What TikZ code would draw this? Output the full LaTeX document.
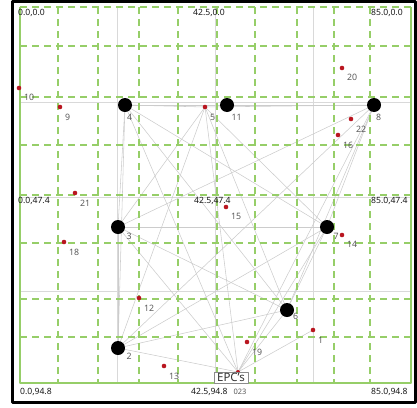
\documentclass[tikz,border=0pt]{standalone}
\usepackage{fontspec}
\setmainfont{Noto Sans}
\usetikzlibrary{calc}
\definecolor{gridgreen}{RGB}{150,206,104}
\definecolor{dotred}{RGB}{185,22,32}

\begin{document}
\begin{tikzpicture}[x=1pt, y=-1pt, line join=round, line cap=butt,
    lab/.style={text=black!65, font=\fontsize{8.8}{10}\selectfont, inner sep=0pt, anchor=west},
    coordlab/.style={text=black!90, font=\fontsize{8.6}{10}\selectfont\bfseries, inner sep=0pt, anchor=west},
    link/.style={black!20, line width=0.55pt},
    ggrid/.style={gridgreen, line width=2.2pt, dash pattern=on 7pt off 5pt}]
    \useasboundingbox (0,0) rectangle (417,407);
    % 外框
    \draw[line width=2.5pt] (12.5,1.5) rectangle (415.5,402.5);

    % 灰色参考线
    \foreach \x in {117,215,313} \draw[black!15, line width=0.8pt] (\x,7) -- (\x,383);
    \foreach \y in {102,197,291} \draw[black!15, line width=0.8pt] (20,\y) -- (411,\y);

    % 节点位置
    \coordinate (n1) at (313,330);  \coordinate (n2) at (118,348);
    \coordinate (n3) at (118,227);  \coordinate (n4) at (125,105);
    \coordinate (n5) at (205,107);  \coordinate (n6) at (287,310);
    \coordinate (n7) at (327,227);  \coordinate (n8) at (374,105);
    \coordinate (n9) at (60,107);   \coordinate (n10) at (19,88);
    \coordinate (n11) at (227,105); \coordinate (n12) at (139,298);
    \coordinate (n13) at (164,366); \coordinate (n14) at (342,235);
    \coordinate (n15) at (226,207); \coordinate (n16) at (338,135);
    \coordinate (n18) at (64,242);  \coordinate (n19) at (247,342);
    \coordinate (n20) at (342,68);  \coordinate (n21) at (75,193);
    \coordinate (n22) at (351,119); \coordinate (epc) at (238,372);

    % 连线 (网状)
    \foreach \a/\b in {n4/n5, n4/n8, n4/n3, n4/n7, n4/n6, n4/n2, n4/epc,
        n5/n8, n5/n3, n5/n7, n5/n6, n5/n2, n5/epc,
        n8/n3, n8/n7, n8/n6, n8/n2, n8/epc,
        n3/n7, n3/n6, n3/n2, n3/epc,
        n7/n6, n7/n2, n7/epc, n6/n2, n6/epc, n2/epc, epc/n1}
        \draw[link] (\a) -- (\b);

    % 绿色虚线网格与边框
    \foreach \x in {58,98,139,178,217,255,297,334,370} \draw[ggrid] (\x,7) -- (\x,383);
    \foreach \y in {46,97,145,195,243,299,337} \draw[ggrid] (20,\y) -- (411,\y);
    \draw[ggrid] (20,7) -- (411,7);
    \draw[gridgreen, line width=2.2pt] (20,7) -- (20,383) -- (411,383) -- (411,7);

    % 坐标标注
    \node[coordlab] (p00) at (18,13) {0.0,0.0};
    \node[coordlab] (p10) at (193,13) {42.5,0.0};
    \node[coordlab] (p20) at (371,13) {85.0,0.0};
    \node[coordlab] (p01) at (18,201) {0.0,47.4};
    \node[coordlab] (p11) at (194,201) {42.5,47.4};
    \node[coordlab] (p21) at (371,201) {85.0,47.4};
    \node[coordlab] (p02) at (20,392) {0.0,94.8};
    \node[coordlab] (p12) at (191,392) {42.5,94.8};
    \node[coordlab] (p22) at (371,392) {85.0,94.8};

    % 小红点
    \fill[dotred] (epc) circle (2pt);
    \fill[dotred] (n1) circle (2.3pt) ($(n1)+(5,10)$) node[lab] (t1) {1};
    \fill[dotred] (n5) circle (2.3pt) ($(n5)+(5,10)$) node[lab] (t5) {5};
    \fill[dotred] (n9) circle (2.3pt) ($(n9)+(5,10)$) node[lab] (t9) {9};
    \fill[dotred] (n10) circle (2.3pt) ($(n10)+(5,9)$) node[lab] (t10) {10};
    \fill[dotred] (n12) circle (2.3pt) ($(n12)+(5,10)$) node[lab] (t12) {12};
    \fill[dotred] (n13) circle (2.3pt) ($(n13)+(5,10)$) node[lab] (t13) {13};
    \fill[dotred] (n14) circle (2.3pt) ($(n14)+(5,9)$) node[lab] (t14) {14};
    \fill[dotred] (n15) circle (2.3pt) ($(n15)+(5,9)$) node[lab] (t15) {15};
    \fill[dotred] (n16) circle (2.3pt) ($(n16)+(5,10)$) node[lab] (t16) {16};
    \fill[dotred] (n18) circle (2.3pt) ($(n18)+(5,10)$) node[lab] (t18) {18};
    \fill[dotred] (n19) circle (2.3pt) ($(n19)+(5,10)$) node[lab] (t19) {19};
    \fill[dotred] (n20) circle (2.3pt) ($(n20)+(5,9)$) node[lab] (t20) {20};
    \fill[dotred] (n21) circle (2.3pt) ($(n21)+(5,10)$) node[lab] (t21) {21};
    \fill[dotred] (n22) circle (2.3pt) ($(n22)+(5,10)$) node[lab] (t22) {22};

    % 大黑点
    \fill (n2) circle (7pt) ($(n2)+(8.5,8)$) node[lab] (t2) {2};
    \fill (n3) circle (7pt) ($(n3)+(8.5,9)$) node[lab] (t3) {3};
    \fill (n4) circle (7pt) ($(n4)+(2,12)$) node[lab] (t4) {4};
    \fill (n6) circle (7pt) ($(n6)+(6,6)$) node[lab] (t6) {6};
    \fill (n7) circle (7pt) ($(n7)+(6.5,9)$) node[lab] (t7) {7};
    \fill (n8) circle (7pt) ($(n8)+(2,12)$) node[lab] (t8) {8};
    \fill (n11) circle (7pt) ($(n11)+(4.5,12)$) node[lab] (t11) {11};

    % EPC 框
    \node[draw=black!45, fill=white, line width=0.6pt, minimum width=34pt, minimum height=11pt,
        inner sep=0pt, font=\fontsize{11.5}{12}\selectfont, text=black!80] (epcbox) at (231,377.5) {EPC's};
    \node[lab, anchor=center, font=\fontsize{7.5}{8}\selectfont] (t023) at (240,392) {023};
\end{tikzpicture}
\end{document}
